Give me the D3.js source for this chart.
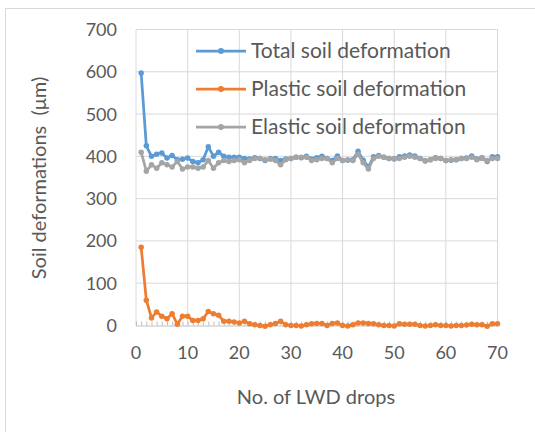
<!DOCTYPE html>
<html>
<head>
<meta charset="utf-8">
<script src="https://cdn.jsdelivr.net/npm/d3@7"></script>
<style>
  body { margin: 0; background: #fff; }
  text { font-family: "Lato", "Open Sans", sans-serif; fill: #595959; }
</style>
</head>
<body>
<div class="chart"></div>
<script>
// values, drop number 1..70
var drops = d3.range(1, 71);
var totalDef = [597,425,400,405,408,396,402,392,393,396,388,385,392,423,400,410,400,398,398,398,
  395,394,397,395,390,395,395,390,394,395,398,397,400,394,397,400,395,390,401,390,
  391,392,412,391,375,399,402,398,395,394,399,401,403,401,395,389,392,397,395,390,
  391,392,395,396,401,394,397,388,399,399];
var plasticDef = [185,60,18,32,22,16,28,3,22,22,12,12,16,33,28,24,10,10,8,6,
  10,4,2,0,-2,2,5,10,2,0,0,-1,2,4,5,5,0,5,6,0,
  -1,2,6,6,5,4,2,0,0,-1,4,3,3,3,0,-1,0,2,0,0,
  -1,0,0,1,3,2,2,-2,4,4];
var elasticDef = [410,365,380,372,385,380,375,388,370,375,375,372,375,390,372,385,390,388,390,392,
  385,390,395,395,392,393,390,380,392,395,398,398,398,390,392,395,395,385,395,390,
  392,390,405,385,370,395,400,398,395,395,395,398,400,398,395,390,392,395,395,390,
  392,392,395,395,398,392,395,390,395,395];
var seriesNames = ["Total soil deformation", "Plastic soil deformation", "Elastic soil deformation"];
var seriesColors = ["#5B9BD5", "#ED7D31", "#A5A5A5"];
var xTicks = [0,10,20,30,40,50,60,70];
var yTicks = [0,100,200,300,400,500,600,700];

var width = 535, height = 432;
var margin = {top: 29.5, right: 37.5, bottom: 106.5, left: 136};

var svg = d3.select('.chart').append('svg')
  .attr('width', width)
  .attr('height', height);

// outer chart frame
svg.append('rect')
  .attr('x', 5.5).attr('y', 8.5)
  .attr('width', 540).attr('height', 440)
  .attr('fill', 'none').attr('stroke', '#d9d9d9');

var xScale = d3.scaleLinear().domain([0, 70]).range([margin.left, width - margin.right]);
var yScale = d3.scaleLinear().domain([0, 700]).range([height - margin.bottom, margin.top]);

// gridlines
svg.append('g').selectAll('line').data(yTicks.slice(1))
  .enter().append('line')
    .attr('x1', xScale(0)).attr('x2', xScale(70))
    .attr('y1', d => yScale(d)).attr('y2', d => yScale(d))
    .attr('stroke', '#d9d9d9');
svg.append('g').selectAll('line').data(xTicks)
  .enter().append('line')
    .attr('x1', d => xScale(d)).attr('x2', d => xScale(d))
    .attr('y1', yScale(0)).attr('y2', yScale(700))
    .attr('stroke', '#d9d9d9');

// x axis with small inner ticks every drop
var xAxis = d3.axisBottom(xScale).tickValues(d3.range(0, 71)).tickSize(-4).tickFormat('');
var gx = svg.append('g').attr('transform', 'translate(0,' + yScale(0) + ')').call(xAxis);
gx.select('.domain').attr('stroke', '#bfbfbf');
gx.selectAll('.tick line').attr('stroke', '#bfbfbf');

svg.append('g').selectAll('text').data(xTicks)
  .enter().append('text')
    .attr('x', d => xScale(d)).attr('y', 359)
    .attr('text-anchor', 'middle')
    .style('font-size', '18px')
    .text(d => d);

svg.append('g').selectAll('text').data(yTicks)
  .enter().append('text')
    .attr('x', 117).attr('y', d => yScale(d) + 6.5)
    .attr('text-anchor', 'end')
    .style('font-size', '18px')
    .text(d => d);

svg.append('text')
  .attr('x', 316).attr('y', 404)
  .attr('text-anchor', 'middle')
  .style('font-size', '20px')
  .text('No. of LWD drops');

svg.append('text')
  .attr('transform', 'translate(46,178) rotate(-90)')
  .attr('text-anchor', 'middle')
  .style('font-size', '20px')
  .style('white-space', 'pre')
  .text('Soil deformations  (\u03BCm)');

var allSeries = [totalDef, plasticDef, elasticDef];
var line = d3.line()
  .x((d, i) => xScale(drops[i]))
  .y(d => yScale(d));

// draw in series order so elastic sits on top as in the reference
allSeries.forEach(function(vals, s) {
  var g = svg.append('g');
  g.append('path')
    .datum(vals)
    .attr('d', line)
    .attr('fill', 'none')
    .attr('stroke', seriesColors[s])
    .attr('stroke-width', 2.75)
    .attr('stroke-linejoin', 'round');
  g.selectAll('circle').data(vals)
    .enter().append('circle')
      .attr('cx', (d, i) => xScale(drops[i]))
      .attr('cy', d => yScale(d))
      .attr('r', 2.75)
      .attr('fill', seriesColors[s]);
});

// legend
var legend = svg.append('g');
seriesNames.forEach(function(name, i) {
  var ly = 51 + i * 38;
  legend.append('line')
    .attr('x1', 196).attr('x2', 246).attr('y1', ly).attr('y2', ly)
    .attr('stroke', seriesColors[i]).attr('stroke-width', 2.75);
  legend.append('circle')
    .attr('cx', 221).attr('cy', ly).attr('r', 3)
    .attr('fill', seriesColors[i]);
  legend.append('text')
    .attr('x', 251).attr('y', ly + 7)
    .style('font-size', '21px')
    .text(name);
});
</script>
</body>
</html>
